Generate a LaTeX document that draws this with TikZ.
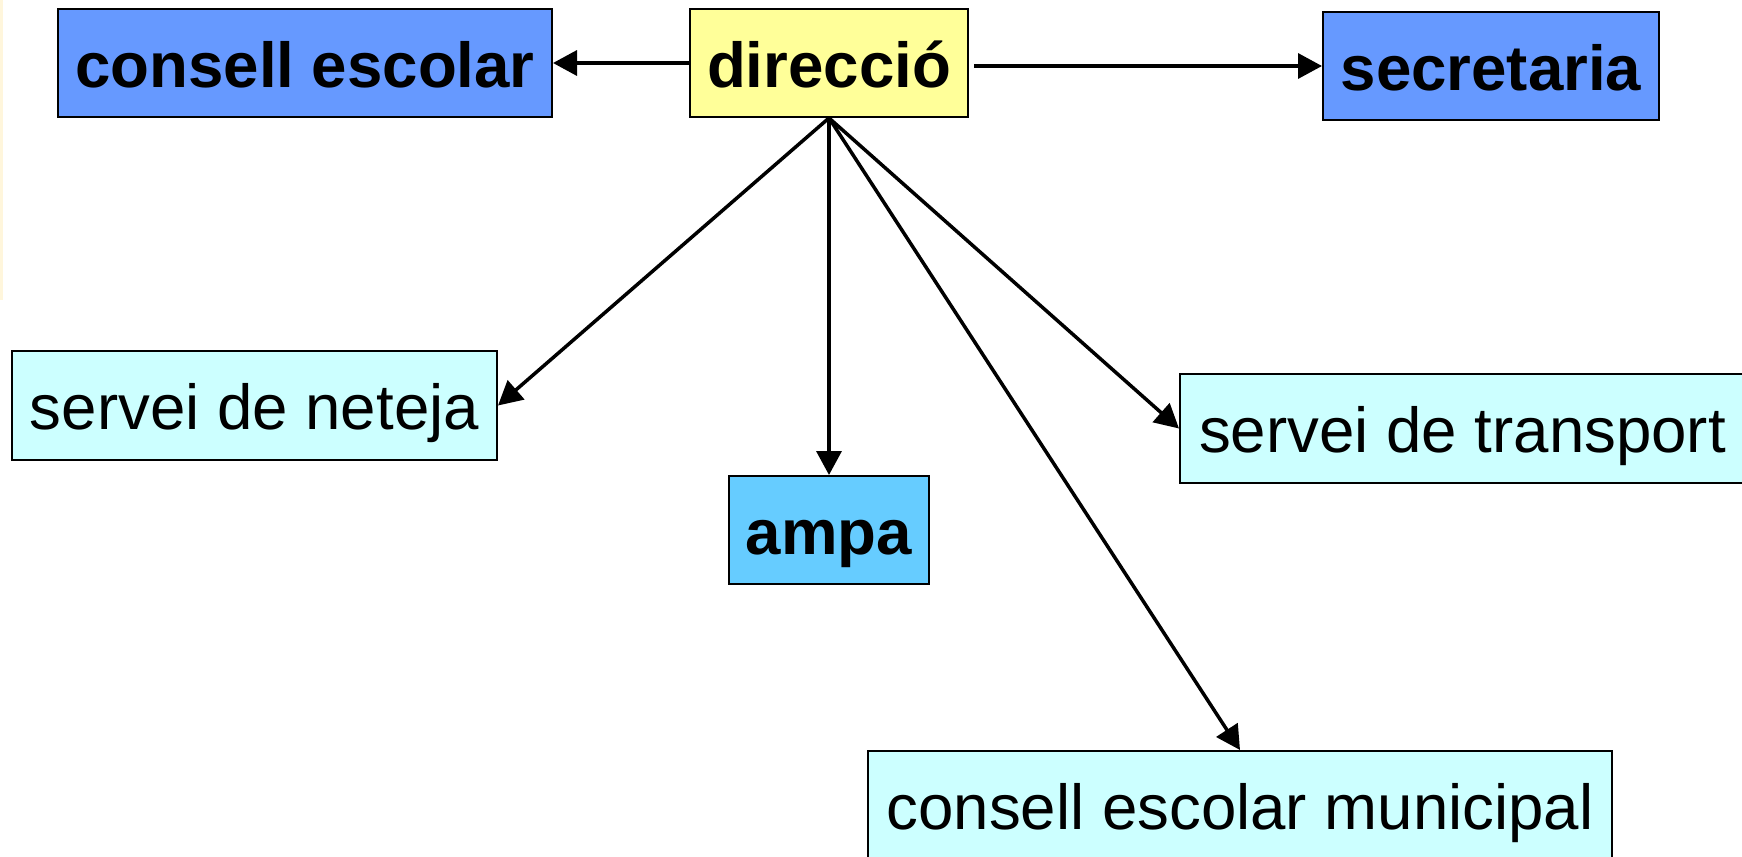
\documentclass[tikz,border=0pt]{standalone}
\usepackage{fontspec}
\setmainfont{Liberation Sans}
\usetikzlibrary{arrows.meta}
\definecolor{ceblue}{HTML}{6699FF}
\definecolor{diryellow}{HTML}{FFFF99}
\definecolor{ampablue}{HTML}{66CCFF}
\definecolor{lightcyan}{HTML}{CCFFFF}
\definecolor{paleyellow}{HTML}{FFF6DC}
\begin{document}
\begin{tikzpicture}[x=0.5pt,y=-0.5pt,
  box/.style={draw=black, line width=1pt, rectangle, inner sep=0pt,
    font=\fontsize{31.8pt}{38pt}\selectfont, text height=24pt, text depth=0pt, align=center},
  boldbox/.style={box, font=\fontsize{31.8pt}{38pt}\selectfont\bfseries},
  conn/.style={line width=1.75pt, -{Triangle[length=12pt,width=12.5pt]}}
]
\clip (0,0) rectangle (1742,857);
\fill[white] (0,0) rectangle (1742,857);
\fill[paleyellow] (0,0) rectangle (3,300);

\node[boldbox, fill=ceblue, minimum width=247pt, minimum height=54pt] (ce) at (305,63) {consell escolar};
\node[boldbox, fill=diryellow, minimum width=139pt, minimum height=54pt] (dir) at (829,63) {direcció};
\node[boldbox, fill=ceblue, minimum width=168pt, minimum height=54pt] (sec) at (1491,66) {secretaria};
\node[box, fill=lightcyan, minimum width=242.5pt, minimum height=54.5pt] (net) at (254.5,405.5) {servei de neteja};
\node[boldbox, fill=ampablue, minimum width=100pt, minimum height=54pt] (ampa) at (829,530) {ampa};
\node[box, fill=lightcyan, minimum width=282.5pt, minimum height=54.5pt] (tra) at (1462.5,428.5) {servei de transport};
\node[box, fill=lightcyan, minimum width=372pt, minimum height=54pt] (mun) at (1240,805) {consell escolar municipal};

\draw[conn] (dir.west) -- (ce.east);
\draw[conn, shorten <=2.5pt] (dir.east |- sec.west) -- (sec.west);
\draw[conn] (dir.south) -- (net.east);
\draw[conn] (dir.south) -- (ampa.north);
\draw[conn] (dir.south) -- (tra.west);
\draw[conn] (dir.south) -- (mun.north);
\end{tikzpicture}
\end{document}
